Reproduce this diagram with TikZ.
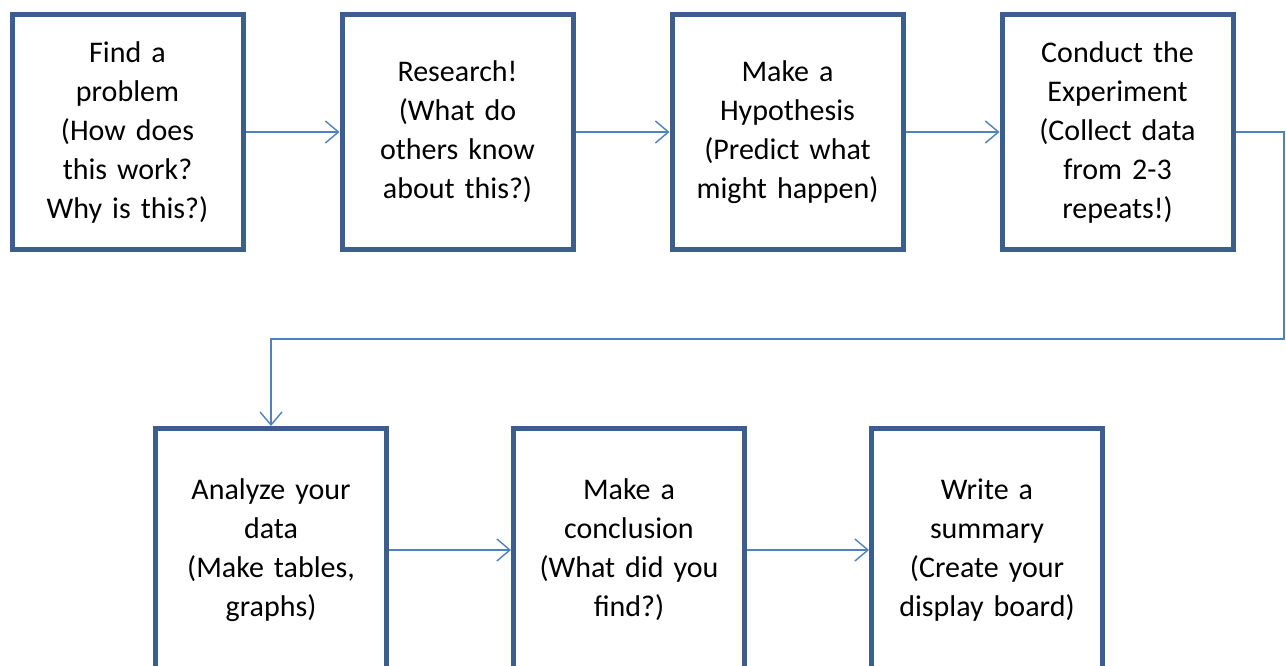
\documentclass[tikz,border=0pt]{standalone}
\usepackage{fontspec}
\setmainfont{Carlito}
\usepackage{tikz}
\usetikzlibrary{arrows.meta, positioning}
\usepackage{xcolor}
\definecolor{frame} {HTML}{3B5E8C}
\definecolor{link}  {HTML}{4F81BD}
\tikzset{
  stepbox/.style = {draw=frame, line width=5pt, fill=white,
                    minimum width=231pt, minimum height=235pt,
                    text width=225pt, align=center, inner sep=0pt,
                    font=\fontsize{30}{39}\selectfont},
  lowbox/.style  = {stepbox, minimum height=243pt},
  arr/.style     = {-{Straight Barb[length=13pt, width=22pt]},
                    line width=1.4pt, link},
}

\begin{document}
\begin{tikzpicture}[x=1pt, y=-1pt, node distance=94pt]
  \useasboundingbox (0,0) rectangle (1286,665);
  \clip (0,0) rectangle (1286,665);

  % top row
  \node[stepbox] (problem) at (127.5,132)
    {Find a\\problem\\(How does\\this work?\\Why is this?)};
  \node[stepbox, right=of problem] (research)
    {Research!\\(What do\\others know\\about this?)};
  \node[stepbox, right=of research] (hypo)
    {Make a\\Hypothesis\\(Predict what\\might happen)};
  \node[stepbox, right=of hypo] (experiment)
    {Conduct the\\Experiment\\(Collect data\\from 2-3\\repeats!)};

  % bottom row
  \node[lowbox] (analyze) at (271,550)
    {Analyze your\\data\\(Make tables,\\graphs)};
  \node[lowbox, right=122pt of analyze] (conclude)
    {Make a\\conclusion\\(What did you\\find?)};
  \node[lowbox, right=122pt of conclude] (summary)
    {Write a\\summary\\(Create your\\display board)};

  \coordinate (turn) at (1284,339);

  \draw[arr] (problem) -- (research);
  \draw[arr] (research) -- (hypo);
  \draw[arr] (hypo) -- (experiment);
  \draw[arr] (experiment.east) -| (turn) -| (analyze.north);
  \draw[arr] (analyze) -- (conclude);
  \draw[arr] (conclude) -- (summary);
\end{tikzpicture}
\end{document}
